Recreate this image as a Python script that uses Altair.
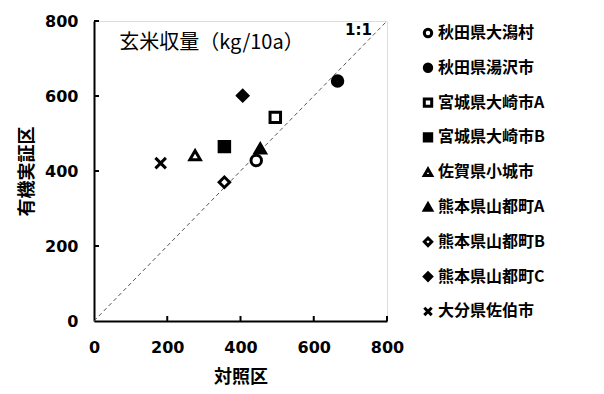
import altair as alt
import pandas as pd

names = ["秋田県大潟村", "秋田県湯沢市", "宮城県大崎市A", "宮城県大崎市B", "佐賀県小城市",
         "熊本県山都町A", "熊本県山都町B", "熊本県山都町C", "大分県佐伯市"]
control = [443, 665, 495, 356, 276, 454, 356, 406, 182]
organic = [428, 640, 543, 465, 442, 460, 370, 601, 421]
shapes = ["circle", "circle", "square", "square", "triangle-up", "triangle-up",
          "diamond", "diamond", "M-1,-1L1,1M1,-1L-1,1"]
fills = ["white", "black", "white", "black", "white", "black", "white", "black", "black"]
strokes = ["black"] * 9
draw_order = [9, 1, 2, 3, 4, 5, 6, 7, 8]

tick_vals = [0, 200, 400, 600, 800]
inner_ticks = [200, 400, 600, 800]
diag = [0, 800]

df = pd.DataFrame({"name": names, "control": control, "organic": organic, "z": draw_order})

CJK = "Noto Sans CJK JP"
NUM = "DejaVu Sans"

xs = alt.Scale(domain=[0, 800], nice=False, zero=True)
ys = alt.Scale(domain=[0, 800], nice=False, zero=True)

leg = alt.Legend(orient="none", legendX=326, legendY=4, title=None,
                 labelFont=CJK, labelFontSize=16, labelFontWeight="bold", labelColor="black",
                 symbolSize=55, symbolStrokeWidth=3, symbolStrokeColor="black",
                 rowPadding=14.8, labelOffset=2, padding=0, labelLimit=300)

points = alt.Chart(df).mark_point(filled=True, strokeWidth=3, size=110, opacity=1).encode(
    x=alt.X("control:Q", scale=xs,
            axis=alt.Axis(values=tick_vals, title="対照区", grid=False, ticks=False,
                          domainColor="black", domainWidth=2, labelFont=NUM, labelFontSize=16,
                          labelFontWeight="bold", labelColor="black", labelPadding=18,
                          titleFont=CJK, titleFontSize=18, titleFontWeight="bold",
                          titleColor="black", titlePadding=13, labelFlush=False)),
    y=alt.Y("organic:Q", scale=ys,
            axis=alt.Axis(values=tick_vals, title="有機実証区", grid=False, ticks=False,
                          domainColor="black", domainWidth=2, labelFont=NUM, labelFontSize=16,
                          labelFontWeight="bold", labelColor="black", labelPadding=16,
                          titleFont=CJK, titleFontSize=18, titleFontWeight="bold",
                          titleColor="black", titlePadding=8, labelFlush=False)),
    shape=alt.Shape("name:N", scale=alt.Scale(domain=names, range=shapes), legend=leg),
    fill=alt.Fill("name:N", scale=alt.Scale(domain=names, range=fills), legend=leg),
    stroke=alt.Stroke("name:N", scale=alt.Scale(domain=names, range=strokes), legend=leg),
    order=alt.Order("z:Q"),
)

diag_df = pd.DataFrame({"x": [diag[0]], "y": [diag[0]], "x2": [diag[1]], "y2": [diag[1]]})
diag_line = alt.Chart(diag_df).mark_rule(color="#555555", strokeWidth=1, strokeDash=[4, 3]).encode(
    x=alt.X("x:Q", scale=xs), y=alt.Y("y:Q", scale=ys), x2="x2:Q", y2="y2:Q")

xt = alt.Chart(pd.DataFrame({"v": inner_ticks})).mark_rule(color="black", strokeWidth=2).encode(
    x=alt.X("v:Q", scale=xs), y=alt.value(300), y2=alt.value(295))
yt = alt.Chart(pd.DataFrame({"v": inner_ticks})).mark_rule(color="black", strokeWidth=2).encode(
    y=alt.Y("v:Q", scale=ys), x=alt.value(0), x2=alt.value(5))

title_df = pd.DataFrame({"x": [69], "y": [741], "t": ["玄米収量（kg/10a）"]})
title_txt = alt.Chart(title_df).mark_text(font=CJK, fontSize=20, align="left", baseline="middle",
                                          color="black").encode(
    x=alt.X("x:Q", scale=xs), y=alt.Y("y:Q", scale=ys), text="t:N")

one_df = pd.DataFrame({"x": [722], "y": [775], "t": ["1:1"]})
one_txt = alt.Chart(one_df).mark_text(font=NUM, fontSize=15, fontWeight="bold", align="center",
                                      baseline="middle", color="black").encode(
    x=alt.X("x:Q", scale=xs), y=alt.Y("y:Q", scale=ys), text="t:N")

chart = alt.layer(diag_line, xt, yt, title_txt, one_txt, points).properties(
    width=293, height=300,
    autosize=alt.AutoSizeParams(type="none"),
    padding={"left": 86, "top": 13, "right": 200, "bottom": 68},
).configure_view(stroke=None).configure(background="white")

chart.save("out.html", embed_options={"renderer": "svg", "actions": False})
